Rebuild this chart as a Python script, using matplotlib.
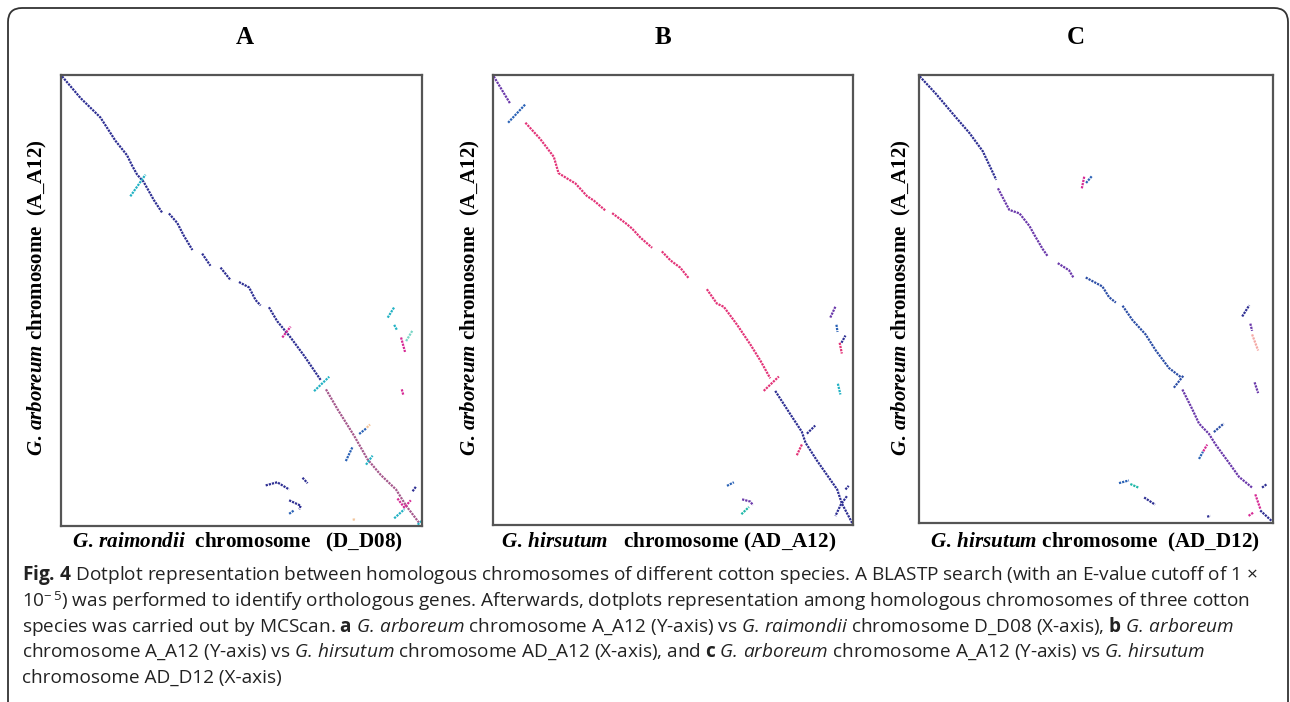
import matplotlib
matplotlib.use('Agg')
import matplotlib.pyplot as plt
from matplotlib.patches import FancyBboxPatch
from matplotlib.transforms import IdentityTransform

plt.rcParams['mathtext.fontset'] = 'custom'
plt.rcParams['mathtext.it'] = 'Liberation Serif:italic:bold'
plt.rcParams['mathtext.rm'] = 'Liberation Serif:bold'
plt.rcParams['mathtext.bf'] = 'Open Sans:bold'
plt.rcParams['mathtext.cal'] = 'Open Sans:italic'
plt.rcParams['mathtext.sf'] = 'Open Sans'

# each segment: (colour class, x positions, y positions), both as fraction of chromosome length
# panel A : A_A12 (y) vs D_D08 (x)
panel_a = [
    ('navy', [0.003, 0.054, 0.109, 0.151, 0.183, 0.197, 0.211, 0.229, 0.257, 0.280],
             [0.003, 0.051, 0.094, 0.146, 0.178, 0.201, 0.221, 0.237, 0.277, 0.305]),
    ('navy', [0.299, 0.322, 0.340, 0.364], [0.307, 0.328, 0.356, 0.388]),
    ('navy', [0.391, 0.414], [0.396, 0.423]),
    ('navy', [0.442, 0.470], [0.427, 0.455]),
    ('navy', [0.493, 0.521, 0.539, 0.553], [0.459, 0.471, 0.499, 0.511]),
    ('navy', [0.576, 0.599, 0.636, 0.673, 0.720], [0.515, 0.546, 0.582, 0.622, 0.677]),
    ('mauve', [0.734, 0.766, 0.812, 0.849, 0.886, 0.928, 0.956, 0.993],
              [0.697, 0.741, 0.800, 0.852, 0.887, 0.919, 0.955, 0.994]),
    ('cyan', [0.192, 0.234], [0.269, 0.221]),
    ('magenta', [0.613, 0.636], [0.582, 0.558]),
    ('cyan', [0.701, 0.743], [0.701, 0.669]),
    ('steel', [0.826, 0.845], [0.796, 0.784]),
    ('peach', [0.847, 0.856], [0.782, 0.775]),
    ('steel', [0.789, 0.808], [0.856, 0.824]),
    ('cyan', [0.845, 0.863], [0.864, 0.844]),
    ('magenta', [0.932, 0.951, 0.969], [0.939, 0.959, 0.943]),
    ('cyan', [0.923, 0.951], [0.983, 0.963]),
    ('navy', [0.974, 0.983], [0.923, 0.913]),
    ('cyan', [0.988, 0.999], [0.997, 0.989]),
    ('peach', [0.808, 0.817], [0.986, 0.985]),
    ('cyan', [0.905, 0.923], [0.538, 0.515]),
    ('cyan', [0.923, 0.931], [0.554, 0.566]),
    ('teal', [0.956, 0.974], [0.590, 0.566]),
    ('magenta', [0.942, 0.953], [0.582, 0.614]),
    ('magenta', [0.944, 0.948], [0.697, 0.709]),
    ('navy', [0.567, 0.599, 0.632], [0.910, 0.903, 0.919]),
    ('navy', [0.669, 0.683], [0.893, 0.905]),
    ('navy', [0.632, 0.664, 0.660], [0.943, 0.955, 0.963]),
    ('steel', [0.632, 0.646], [0.973, 0.965]),
]

# panel B : A_A12 (y) vs AD_A12 (x)
panel_b = [
    ('purple', [0.002, 0.048], [0.003, 0.064]),
    ('steel', [0.042, 0.090], [0.106, 0.065]),
    ('pink', [0.090, 0.131, 0.169, 0.182, 0.206, 0.229, 0.261, 0.280, 0.312],
             [0.106, 0.142, 0.182, 0.218, 0.230, 0.241, 0.269, 0.279, 0.301]),
    ('pink', [0.331, 0.368, 0.386, 0.409, 0.442], [0.307, 0.329, 0.341, 0.361, 0.384]),
    ('pink', [0.469, 0.493, 0.520, 0.544], [0.392, 0.412, 0.428, 0.452]),
    ('pink', [0.594, 0.622, 0.641, 0.678, 0.715, 0.743, 0.770],
             [0.476, 0.508, 0.515, 0.555, 0.599, 0.635, 0.674]),
    ('pink', [0.752, 0.794], [0.702, 0.670]),
    ('navy', [0.784, 0.826, 0.858, 0.868, 0.900, 0.928, 0.956, 0.969, 0.998],
             [0.702, 0.754, 0.793, 0.817, 0.857, 0.889, 0.921, 0.952, 0.996]),
    ('navy', [0.983, 0.966, 0.951], [0.936, 0.955, 0.980]),
    ('navy', [0.979, 0.988], [0.921, 0.913]),
    ('navy', [0.872, 0.895], [0.797, 0.779]),
    ('pink', [0.844, 0.858], [0.845, 0.821]),
    ('purple', [0.937, 0.951], [0.539, 0.515]),
    ('steel', [0.954, 0.957], [0.555, 0.571]),
    ('navy', [0.968, 0.979], [0.595, 0.579]),
    ('pink', [0.963, 0.969], [0.595, 0.619]),
    ('cyan', [0.958, 0.965], [0.686, 0.710]),
    ('steel', [0.650, 0.669], [0.913, 0.905]),
    ('purple', [0.692, 0.715, 0.722], [0.943, 0.948, 0.956]),
    ('teal2', [0.690, 0.711], [0.976, 0.960]),
]

# panel C : A_A12 (y) vs AD_D12 (x)
panel_c = [
    ('navy', [0.002, 0.049, 0.096, 0.143, 0.180, 0.204, 0.218],
             [0.003, 0.043, 0.087, 0.130, 0.170, 0.210, 0.234]),
    ('purple', [0.223, 0.255, 0.284, 0.312, 0.326, 0.349, 0.363],
               [0.253, 0.301, 0.309, 0.337, 0.357, 0.388, 0.404]),
    ('purple', [0.392, 0.424, 0.436], [0.420, 0.436, 0.452]),
    ('steel2', [0.471, 0.518, 0.537, 0.556], [0.452, 0.472, 0.496, 0.508]),
    ('steel2', [0.575, 0.603, 0.640, 0.669, 0.706, 0.739], [0.515, 0.547, 0.579, 0.615, 0.654, 0.674]),
    ('steel2', [0.720, 0.748], [0.698, 0.670]),
    ('purple', [0.744, 0.772, 0.791, 0.819, 0.838, 0.875, 0.904, 0.941],
               [0.702, 0.746, 0.778, 0.801, 0.825, 0.865, 0.897, 0.921]),
    ('magenta', [0.950, 0.964], [0.936, 0.968]),
    ('navy', [0.964, 0.997], [0.972, 0.996]),
    ('magenta', [0.931, 0.946], [0.984, 0.976]),
    ('navy', [0.969, 0.983], [0.921, 0.913]),
    ('steel2', [0.833, 0.861], [0.797, 0.778]),
    ('steel', [0.791, 0.802], [0.857, 0.841]),
    ('magenta', [0.803, 0.814], [0.840, 0.825]),
    ('navy', [0.814, 0.823], [0.986, 0.984]),
    ('magenta', [0.460, 0.467], [0.253, 0.226]),
    ('steel', [0.472, 0.488], [0.241, 0.226]),
    ('navy', [0.913, 0.933], [0.539, 0.514]),
    ('purple', [0.936, 0.941], [0.555, 0.571]),
    ('salmon', [0.941, 0.958], [0.579, 0.615]),
    ('purple', [0.948, 0.958], [0.686, 0.710]),
    ('steel', [0.565, 0.593], [0.911, 0.905]),
    ('teal2', [0.597, 0.620], [0.913, 0.921]),
    ('navy', [0.636, 0.667], [0.943, 0.959]),
]

titles = ['A', 'B', 'C']
x_labels = [r'$\mathit{G.\,raimondii}$  chromosome   (D_D08)',
            r'$\mathit{G.\,hirsutum}$   chromosome (AD_A12)',
            r'$\mathit{G.\,hirsutum}$ chromosome  (AD_D12)']
y_label = r'$\mathit{G.\,arboreum}$ chromosome  (A_A12)'

caption = [
    r'$\mathbf{Fig.\,4}$ Dotplot representation between homologous chromosomes of different cotton species. A BLASTP search (with an E-value cutoff of 1 ×',
    r'10$^{\mathsf{-\,5}}$) was performed to identify orthologous genes. Afterwards, dotplots representation among homologous chromosomes of three cotton',
    r'species was carried out by MCScan. $\mathbf{a}$ $\mathcal{G.\,arboreum}$ chromosome A_A12 (Y-axis) vs $\mathcal{G.\,raimondii}$ chromosome D_D08 (X-axis), $\mathbf{b}$ $\mathcal{G.\,arboreum}$',
    r'chromosome A_A12 (Y-axis) vs $\mathcal{G.\,hirsutum}$ chromosome AD_A12 (X-axis), and $\mathbf{c}$ $\mathcal{G.\,arboreum}$ chromosome A_A12 (Y-axis) vs $\mathcal{G.\,hirsutum}$',
    'chromosome AD_D12 (X-axis)',
]

colours = {'navy': '#2e2f93', 'mauve': '#a5588c', 'cyan': '#22b2c4', 'magenta': '#d62a95',
           'steel': '#2a62b6', 'steel2': '#2c4ea6', 'peach': '#f2c49a', 'teal': '#7ad6c6',
           'teal2': '#1fb8a8', 'purple': '#6a38aa', 'pink': '#e33478', 'salmon': '#f4a8a4'}

W, H = 1290, 702
fig = plt.figure(figsize=(W / 100, H / 100), dpi=100)

# outer rounded frame (pixel coords)
frame = FancyBboxPatch((8, -30), 1280, H - 8 + 30, boxstyle='round,pad=0,rounding_size=14',
                       fc='none', ec='#333333', lw=1.3, transform=IdentityTransform())
fig.add_artist(frame)

boxes = [(61, 422, 75, 526), (493, 853, 75, 525), (919, 1273, 75, 523)]
title_x = [245, 663, 1076]
xlab_x = [238, 669, 1095]
ylab_x = [37, 470, 901]

for panel, (x0, x1, y0, y1), t, tx, xl, xlx, ylx in zip([panel_a, panel_b, panel_c], boxes, titles,
                                                       title_x, x_labels, xlab_x, ylab_x):
    ax = fig.add_axes([x0 / W, 1 - y1 / H, (x1 - x0) / W, (y1 - y0) / H])
    for key, xs, ys in panel:
        ax.plot(xs, ys, color=colours[key], lw=1.6, ls=(0, (1.0, 0.45)))
    ax.set_xlim(0, 1)
    ax.set_ylim(1, 0)
    ax.set_xticks([])
    ax.set_yticks([])
    for s in ax.spines.values():
        s.set_color('#555555')
        s.set_linewidth(1.6)
    fig.text(tx / W, 1 - 37 / H, t, family='Liberation Serif', weight='bold', fontsize=18,
             ha='center', va='center')
    fig.text(xlx / W, 1 - 542 / H, xl, family='Liberation Serif', weight='bold', fontsize=15.2,
             ha='center', va='center')
    fig.text(ylx / W, 1 - 298 / H, y_label, family='Liberation Serif', weight='bold', fontsize=15,
             ha='center', va='center', rotation=90)

line_y = [575, 601, 627, 652, 678]
for ln, y in zip(caption, line_y):
    fig.text(22 / W, 1 - y / H, ln, family='Open Sans', fontsize=13.7, ha='left', va='center',
             color='#222222')

fig.savefig('out.png', dpi=100)
